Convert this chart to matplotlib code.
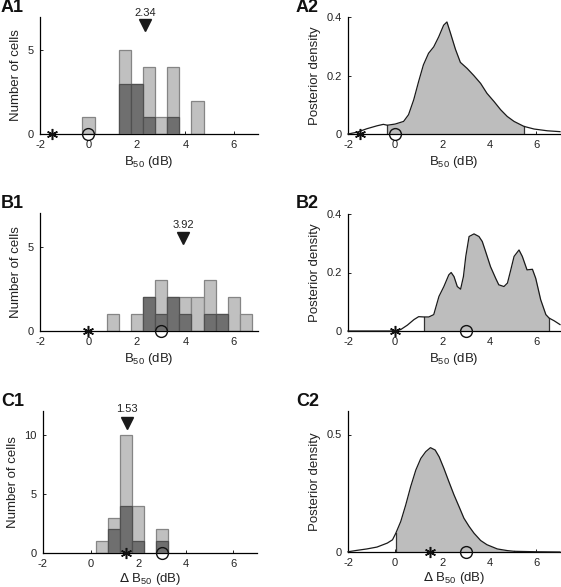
import numpy as np
import matplotlib
matplotlib.use("Agg")
import matplotlib.pyplot as plt

plt.rcParams['font.family'] = ['Liberation Sans', 'DejaVu Sans']
plt.rcParams['axes.unicode_minus'] = False

# ---------------- data ----------------
bin_width = 0.5
A1_centers = [0.0, 1.5, 2.0, 2.5, 3.0, 3.5, 4.5]
A1_total = [1, 5, 3, 4, 1, 4, 2]
A1_dark = [0, 3, 3, 1, 0, 1, 0]
A1_median = 2.34

B1_centers = [1.0, 2.0, 2.5, 3.0, 3.5, 4.0, 4.5, 5.0, 5.5, 6.0, 6.5]
B1_total = [1, 1, 2, 3, 2, 2, 2, 3, 1, 2, 1]
B1_dark = [0, 0, 2, 1, 2, 1, 0, 1, 1, 0, 0]
B1_median = 3.92

C1_centers = [0.5, 1.0, 1.5, 2.0, 3.0]
C1_total = [1, 3, 10, 4, 2]
C1_dark = [0, 2, 4, 1, 1]
C1_median = 1.53

A2_x = [-2.0, -1.62, -1.2, -0.77, -0.5, -0.33, 0.0, 0.36, 0.57, 0.79, 1.0, 1.2, 1.42,
        1.64, 1.85, 2.06, 2.2, 2.35, 2.56, 2.77, 3.06, 3.34, 3.63, 3.9, 4.2, 4.48,
        4.76, 5.05, 5.47, 5.9, 6.46, 7.0]
A2_y = [0.0, 0.006, 0.018, 0.028, 0.033, 0.030, 0.034, 0.043, 0.066, 0.117, 0.18,
        0.236, 0.276, 0.298, 0.332, 0.372, 0.383, 0.345, 0.29, 0.245, 0.224, 0.2,
        0.173, 0.139, 0.111, 0.083, 0.06, 0.043, 0.026, 0.017, 0.011, 0.008]
A2_ci = (-0.33, 5.47)

B2_x = [-2.0, -0.5, 0.0, 0.24, 0.52, 0.8, 1.0, 1.22, 1.43, 1.64, 1.86, 2.07, 2.28,
        2.38, 2.5, 2.64, 2.78, 2.9, 3.0, 3.14, 3.35, 3.56, 3.7, 3.84, 4.05, 4.27,
        4.4, 4.62, 4.77, 4.91, 5.05, 5.26, 5.4, 5.6, 5.83, 5.97, 6.18, 6.4, 6.54,
        6.75, 7.0]
B2_y = [0.0, 0.0, 0.0, 0.005, 0.02, 0.039, 0.049, 0.048, 0.048, 0.056, 0.118, 0.152,
        0.192, 0.2, 0.186, 0.152, 0.143, 0.186, 0.255, 0.323, 0.332, 0.323, 0.306,
        0.272, 0.22, 0.18, 0.158, 0.152, 0.164, 0.209, 0.255, 0.277, 0.255, 0.209,
        0.211, 0.18, 0.107, 0.056, 0.044, 0.035, 0.022]
B2_ci = (1.22, 6.54)

C2_x = [-2.0, -1.62, -1.2, -0.77, -0.33, -0.11, 0.03, 0.24, 0.45, 0.66, 0.88, 1.09,
        1.3, 1.5, 1.7, 1.87, 2.07, 2.28, 2.5, 2.71, 2.92, 3.14, 3.35, 3.63, 3.9,
        4.34, 4.76, 5.05, 6.0, 7.0]
C2_y = [0.001, 0.007, 0.013, 0.021, 0.038, 0.052, 0.08, 0.13, 0.2, 0.278, 0.349,
        0.398, 0.427, 0.444, 0.434, 0.405, 0.356, 0.3, 0.243, 0.194, 0.144, 0.109,
        0.08, 0.049, 0.031, 0.013, 0.006, 0.003, 0.001, 0.0]
C2_ci = (0.03, 5.05)

star_x = {'A': -1.5, 'B': 0.0, 'C': 1.5}
circle_x = {'A': 0.0, 'B': 3.0, 'C': 3.0}

# ---------------- style ----------------
LIGHT = '#c0c0c0'
LIGHT_EDGE = '#858585'
DARK = '#6f6f6f'
DARK_EDGE = '#505050'
FILL = '#bdbdbd'
TXT = '#222222'

W, H = 561, 587
fig = plt.figure(figsize=(W / 100, H / 100), dpi=100)


def pos(left, right, top, bottom):
    return [left / W, 1 - bottom / H, (right - left) / W, (bottom - top) / H]


def style(ax, yticks, ylim, ylabel, xlabel, xpad=3):
    ax.set_xlim(-2, 7)
    ax.set_ylim(*ylim)
    for s in ['top', 'right']:
        ax.spines[s].set_visible(False)
    for s in ['left', 'bottom']:
        ax.spines[s].set_linewidth(0.9)
        ax.spines[s].set_color('black')
    ax.set_xticks([-2, 0, 2, 4, 6])
    ax.set_yticks(yticks)
    ax.set_yticklabels([('%g' % t) for t in yticks])
    ax.tick_params(direction='in', length=2, width=0.6, labelsize=8,
                   labelcolor=TXT)
    ax.tick_params(axis='y', pad=4.5)
    ax.tick_params(axis='x', pad=4)
    ax.set_ylabel(ylabel, fontsize=9.5, color=TXT, labelpad=4)
    ax.set_xlabel(xlabel, fontsize=9.5, color=TXT, labelpad=xpad)


def hist(ax, centers, total, dark, median, tri_y, txt_y):
    ax.bar(centers, total, width=bin_width, color=LIGHT, edgecolor=LIGHT_EDGE,
           linewidth=0.9, zorder=2)
    dc = [c for c, d in zip(centers, dark) if d > 0]
    dd = [d for d in dark if d > 0]
    ax.bar(dc, dd, width=bin_width, color=DARK, edgecolor=DARK_EDGE,
           linewidth=0.9, zorder=3)
    ax.plot([median], [tri_y], 'v', color='#1a1a1a', ms=8, clip_on=False, zorder=5)
    ax.text(median, txt_y, '%.2f' % median, ha='center', va='center',
            fontsize=8, color=TXT)


def density(ax, x, y, ci):
    x = np.asarray(x)
    y = np.asarray(y)
    m = (x >= ci[0]) & (x <= ci[1])
    ax.fill_between(x[m], 0, y[m], color=FILL, linewidth=0, zorder=2)
    ax.plot([ci[0], ci[0]], [0, y[m][0]], color='#333333', lw=0.9, zorder=3)
    ax.plot([ci[1], ci[1]], [0, y[m][-1]], color='#333333', lw=0.9, zorder=3)
    ax.plot(x, y, color='#1a1a1a', lw=0.9, zorder=4, clip_on=False)


def markers(ax, key):
    ax.plot([star_x[key]], [0], marker=(6, 2, 0), color='#111111', ms=8,
            mew=1.1, ls='none', clip_on=False, zorder=6)
    ax.plot([circle_x[key]], [0], 'o', mfc='none', mec='#111111', ms=8.5,
            mew=1.0, ls='none', clip_on=False, zorder=6)


xl = r'B$_{\mathregular{50}}$ (dB)'
xl_d = r'$\Delta$ B$_{\mathregular{50}}$ (dB)'

# Row A
a1 = fig.add_axes(pos(40, 258, 17, 134))
hist(a1, A1_centers, A1_total, A1_dark, A1_median, 6.53, 7.25)
markers(a1, 'A')
style(a1, [0, 5], (0, 7), 'Number of cells', xl)

a2 = fig.add_axes(pos(348, 560, 17, 134))
density(a2, A2_x, A2_y, A2_ci)
markers(a2, 'A')
style(a2, [0, 0.2, 0.4], (0, 0.4), 'Posterior density', xl)

# Row B
b1 = fig.add_axes(pos(40, 258, 213, 331))
hist(b1, B1_centers, B1_total, B1_dark, B1_median, 5.5, 6.3)
markers(b1, 'B')
style(b1, [0, 5], (0, 7), 'Number of cells', xl)

b2 = fig.add_axes(pos(348, 560, 214, 331))
density(b2, B2_x, B2_y, B2_ci)
markers(b2, 'B')
style(b2, [0, 0.2, 0.4], (0, 0.4), 'Posterior density', xl)

# Row C
c1 = fig.add_axes(pos(43, 257, 411, 553))
hist(c1, C1_centers, C1_total, C1_dark, C1_median, 10.95, 12.2)
markers(c1, 'C')
style(c1, [0, 5, 10], (0, 12), 'Number of cells', xl_d, xpad=1.5)

c2 = fig.add_axes(pos(348, 560, 411, 552))
density(c2, C2_x, C2_y, C2_ci)
markers(c2, 'C')
style(c2, [0, 0.5], (0, 0.6), 'Posterior density', xl_d, xpad=1.5)

# Panel labels
for lab, px, py in [('A1', 1, 8), ('A2', 296, 8), ('B1', 1, 204), ('B2', 296, 204),
                    ('C1', 1, 402), ('C2', 296, 402)]:
    fig.text(px / W, 1 - py / H, lab, fontsize=13, fontweight='bold',
             ha='left', va='center', color='#111111')

fig.savefig('out.png', dpi=100)
